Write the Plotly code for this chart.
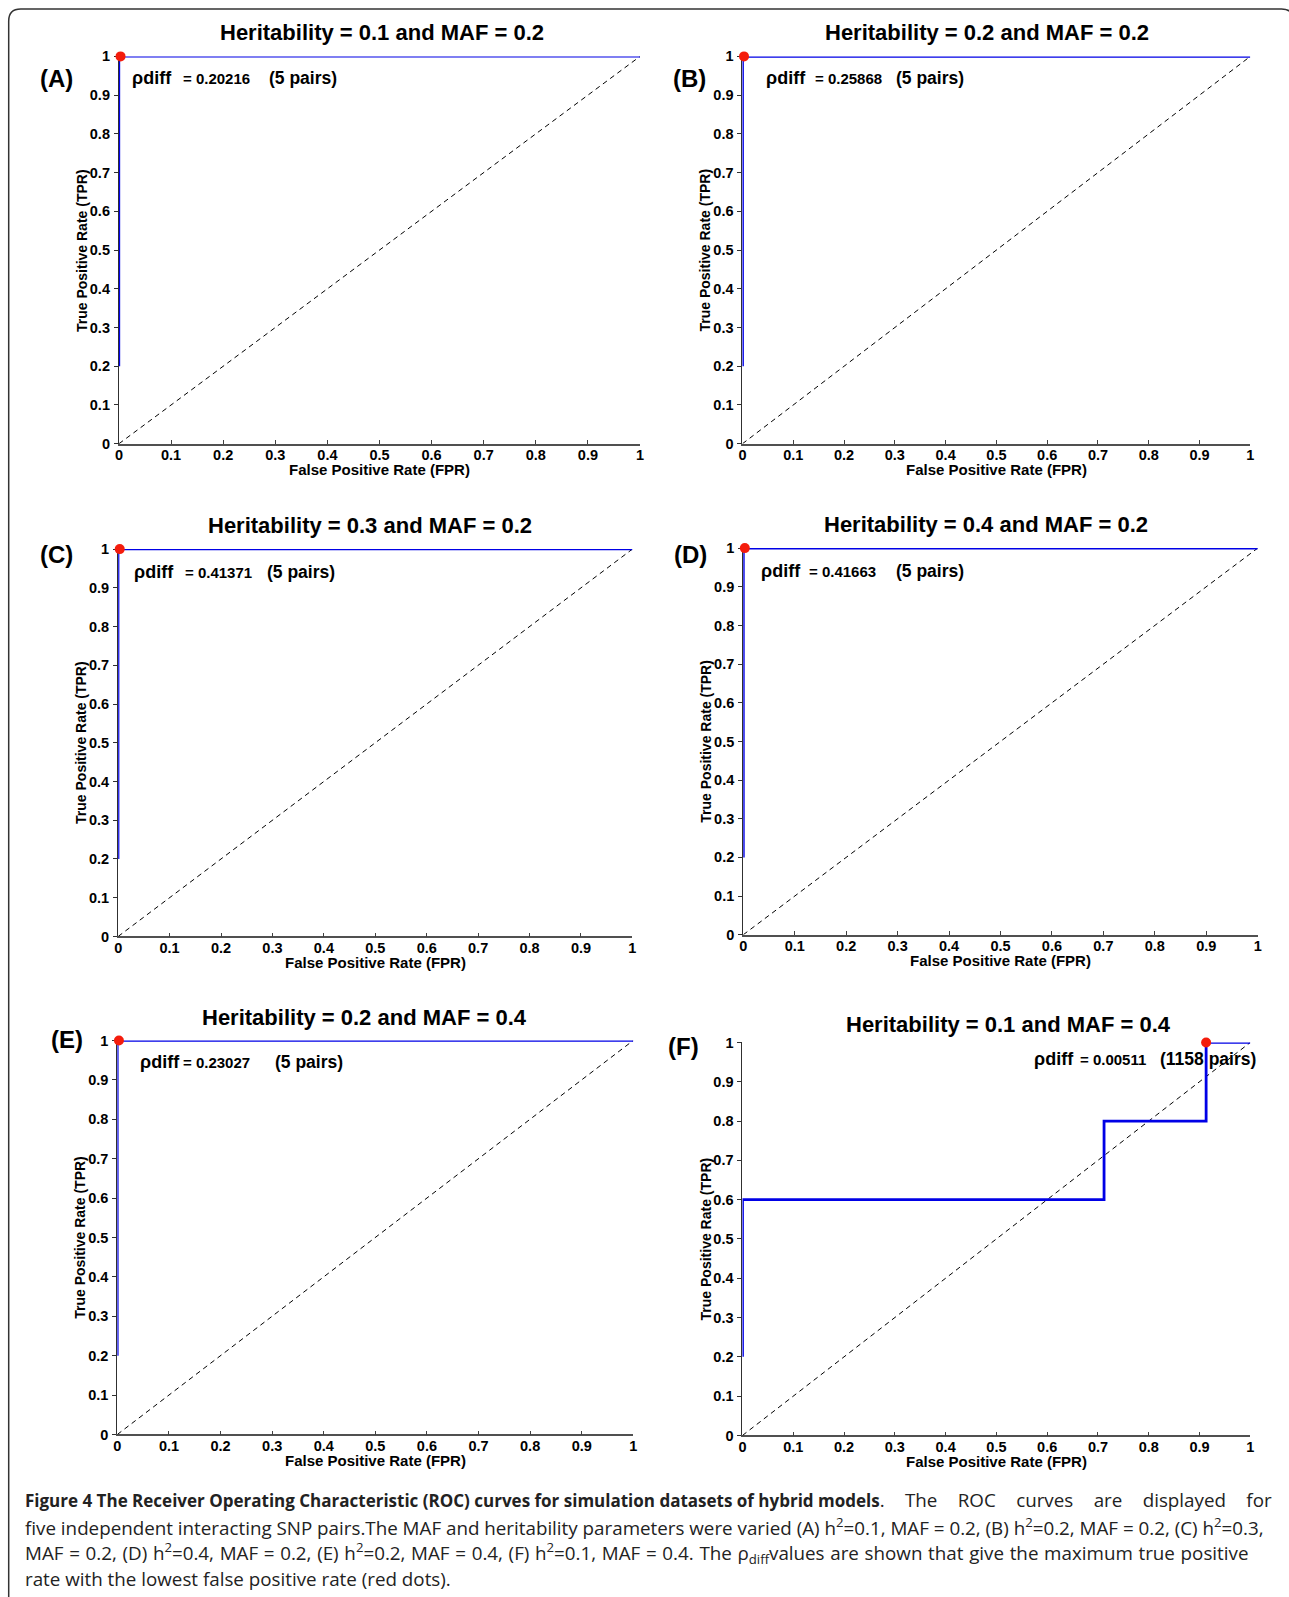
import plotly.graph_objects as go

# Figure size and the measured mapping from figure pixels to the final photo
W, H = 1300, 1605
AX_OFF, AX_SCALE = 2.8, 0.994   # horizontal: photo_x = AX_OFF + AX_SCALE * fig_x
AY_OFF, AY_SCALE = 7.6, 0.990   # vertical:   photo_y = AY_OFF + AY_SCALE * fig_y

# ---------------- data ----------------
panel_labels = ["(A)", "(B)", "(C)", "(D)", "(E)", "(F)"]
heritability = ["0.1", "0.2", "0.3", "0.4", "0.2", "0.1"]
maf = ["0.2", "0.2", "0.2", "0.2", "0.4", "0.4"]
rho_diff = ["0.20216", "0.25868", "0.41371", "0.41663", "0.23027", "0.00511"]
n_pairs = ["5", "5", "5", "5", "5", "1158"]

fpr_A = [0, 0, 1]
tpr_A = [0.2, 1, 1]
fpr_B = [0, 0, 1]
tpr_B = [0.2, 1, 1]
fpr_C = [0, 0, 1]
tpr_C = [0.2, 1, 1]
fpr_D = [0, 0, 1]
tpr_D = [0.2, 1, 1]
fpr_E = [0, 0, 1]
tpr_E = [0.2, 1, 1]
fpr_F = [0, 0, 0.712, 0.712, 0.913, 0.913, 1]
tpr_F = [0.2, 0.6, 0.6, 0.8, 0.8, 1, 1]

best_fpr = [0.003, 0.003, 0.003, 0.003, 0.003, 0.913]
best_tpr = [1, 1, 1, 1, 1, 1]

diag_x = [0, 1]
diag_y = [0, 1]

tick_vals = [0, 0.1, 0.2, 0.3, 0.4, 0.5, 0.6, 0.7, 0.8, 0.9, 1]
tick_text = ["0", "0.1", "0.2", "0.3", "0.4", "0.5", "0.6", "0.7", "0.8", "0.9", "1"]

fprs = [fpr_A, fpr_B, fpr_C, fpr_D, fpr_E, fpr_F]
tprs = [tpr_A, tpr_B, tpr_C, tpr_D, tpr_E, tpr_F]

# ---------------- layout geometry (reference pixels) ----------------
boxes = [  # x0, x1, ytop, ybottom
    (117.8, 638.9, 56, 443.3),
    (741.4, 1249.3, 56, 443.3),
    (117.0, 631.3, 548.7, 936.0),
    (742.2, 1256.7, 547.7, 934.3),
    (116.2, 632.2, 1040, 1434),
    (741.4, 1249.3, 1042, 1435),
]
line_w = [2.4, 2.8, 2.4, 2.8, 2.4, 2.8]
title_pos = [(381, 32), (986, 32), (369, 525), (985, 524), (363, 1017), (1007, 1024)]
label_pos = [(55, 78), (688, 78), (55, 554), (689, 554), (66, 1039), (682, 1046)]
rho_pos = [  # rho left, number left, pairs left, y center
    (129, 180, 266, 78),
    (763, 812, 893, 78),
    (131, 182, 264, 572),
    (758, 806, 893, 571),
    (137, 180, 272, 1062),
    (1031, 1077, 1157, 1059),
]

def px(x):
    return ((x - AX_OFF) / AX_SCALE) / W

def py(y):
    return 1 - ((y - AY_OFF) / AY_SCALE) / H

BLUE = "#0000e6"
RED = "#f41c0c"
FONT = "Liberation Sans"

fig = go.Figure()
annotations = []
layout = {}

for i in range(6):
    sfx = "" if i == 0 else str(i + 1)
    xa, ya = "x" + sfx, "y" + sfx
    x0, x1, yt, yb = boxes[i]
    fig.add_trace(go.Scatter(x=diag_x, y=diag_y, mode="lines", xaxis=xa, yaxis=ya,
                             line=dict(color="black", width=1, dash="5px,4px"),
                             showlegend=False, hoverinfo="skip"))
    fig.add_trace(go.Scatter(x=fprs[i], y=tprs[i], mode="lines", xaxis=xa, yaxis=ya,
                             line=dict(color=BLUE, width=line_w[i]), cliponaxis=False,
                             showlegend=False))
    fig.add_trace(go.Scatter(x=[best_fpr[i]], y=[best_tpr[i]], mode="markers", xaxis=xa, yaxis=ya,
                             marker=dict(color=RED, size=10, line=dict(width=0)), cliponaxis=False,
                             showlegend=False))
    common = dict(range=[0, 1], tickvals=tick_vals, ticktext=tick_text, showgrid=False,
                  zeroline=False, showline=True, ticklen=4, tickwidth=1.2, layer="below traces",
                  tickfont=dict(family=FONT, size=14.5, color="black", weight="bold"),
                  fixedrange=True)
    layout["xaxis" + sfx] = dict(common, domain=[px(x0), px(x1)], anchor=ya, ticks="inside",
                                 linecolor="#505050", linewidth=1.8, tickcolor="#404040",
                                 ticklabelstandoff=-3)
    layout["yaxis" + sfx] = dict(common, domain=[py(yb), py(yt)], anchor=xa, ticks="outside",
                                 linecolor="#303030", linewidth=1.2, tickcolor="#303030",
                                 ticklabelstandoff=1)

    annotations.append(dict(x=px(title_pos[i][0]), y=py(title_pos[i][1]), xref="paper", yref="paper",
                            text=f"Heritability = {heritability[i]} and MAF = {maf[i]}",
                            showarrow=False, xanchor="center", yanchor="middle",
                            font=dict(family=FONT, size=22, color="black", weight="bold")))
    annotations.append(dict(x=px(label_pos[i][0]), y=py(label_pos[i][1]), xref="paper", yref="paper",
                            text=panel_labels[i], showarrow=False, xanchor="center", yanchor="middle",
                            font=dict(family=FONT, size=24, color="black", weight="bold")))
    rx, nx, ppx, ry = rho_pos[i]
    annotations.append(dict(x=px(rx), y=py(ry), xref="paper", yref="paper", text="ρdiff",
                            showarrow=False, xanchor="left", yanchor="middle",
                            font=dict(family=FONT, size=18, color="black", weight="bold")))
    annotations.append(dict(x=px(nx), y=py(ry), xref="paper", yref="paper", text="= " + rho_diff[i],
                            showarrow=False, xanchor="left", yanchor="middle",
                            font=dict(family=FONT, size=15, color="black", weight="bold")))
    annotations.append(dict(x=px(ppx), y=py(ry), xref="paper", yref="paper",
                            text=f"({n_pairs[i]} pairs)",
                            showarrow=False, xanchor="left", yanchor="middle",
                            font=dict(family=FONT, size=17.5, color="black", weight="bold")))
    annotations.append(dict(x=px((x0 + x1) / 2), y=py(yb + 26), xref="paper", yref="paper",
                            text="False Positive Rate (FPR)", showarrow=False,
                            xanchor="center", yanchor="middle",
                            font=dict(family=FONT, size=15, color="black", weight="bold")))
    annotations.append(dict(x=px(x0 - 37), y=py((yt + yb) / 2), xref="paper", yref="paper",
                            text="True Positive Rate (TPR)", showarrow=False, textangle=-90,
                            xanchor="center", yanchor="middle",
                            font=dict(family=FONT, size=14, color="black", weight="bold")))

# caption
BOLD = '<span style="font-size:17px"><b>'
cap_lines = [
    BOLD + "Figure 4 The Receiver Operating Characteristic (ROC) curves for simulation datasets of hybrid models</b></span>"
    '<span style="word-spacing:15.5px">. The ROC curves are displayed for</span>',
    "five independent interacting SNP pairs.The MAF and heritability parameters were varied (A) h<sup>2</sup>=0.1, MAF = 0.2, (B) h<sup>2</sup>=0.2, MAF = 0.2, (C) h<sup>2</sup>=0.3,",
    '<span style="word-spacing:0.8px">MAF = 0.2, (D) h<sup>2</sup>=0.4, MAF = 0.2, (E) h<sup>2</sup>=0.2, MAF = 0.4, (F) h<sup>2</sup>=0.1, MAF = 0.4. The ρ<sub>diff</sub>values are shown that give the maximum true positive</span>',
    "rate with the lowest false positive rate (red dots).",
]
cap_y = [1500, 1526.5, 1553, 1579]
for t, yy in zip(cap_lines, cap_y):
    annotations.append(dict(x=px(22), y=py(yy), xref="paper", yref="paper", text=t,
                            showarrow=False, xanchor="left", yanchor="middle",
                            font=dict(family="Open Sans", size=18.8, color="#222222")))

# outer frame (reference pixels); the right side runs just past the picture edge
r = 12
fx0, fy0, fx1, fy1 = 7.5, 8.5, 1292.5, 1620
path = (f"M {px(fx0)},{py(fy1)} L {px(fx0)},{py(fy0 + r)} "
        f"Q {px(fx0)},{py(fy0)} {px(fx0 + r)},{py(fy0)} "
        f"L {px(fx1 - r)},{py(fy0)} Q {px(fx1)},{py(fy0)} {px(fx1)},{py(fy0 + r)} "
        f"L {px(fx1)},{py(fy1)}")
shapes = [dict(type="path", xref="paper", yref="paper", path=path,
               line=dict(color="#333333", width=1.5))]

fig.update_layout(width=W, height=H, margin=dict(l=0, r=0, t=0, b=0),
                  paper_bgcolor="white", plot_bgcolor="white",
                  annotations=annotations, shapes=shapes, showlegend=False, **layout)

fig.write_html("out.html")
